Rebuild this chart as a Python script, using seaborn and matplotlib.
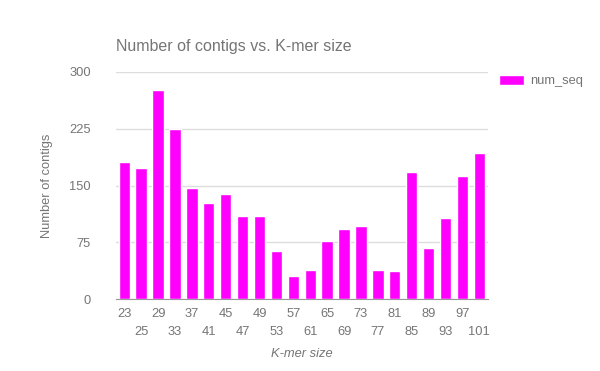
import matplotlib
matplotlib.use('Agg')
import matplotlib.pyplot as plt
import seaborn as sns
import pandas as pd

# data
kmer = [23, 25, 29, 33, 37, 41, 45, 47, 49, 53, 57,
        61, 65, 69, 73, 77, 81, 85, 89, 93, 97, 101]
num_seq = [181, 173, 276, 224, 147, 127, 139, 110, 110, 64, 31,
           39, 77, 93, 97, 39, 38, 168, 68, 107, 163, 193]

df = pd.DataFrame({'kmer': [str(k) for k in kmer], 'num_seq': num_seq})

sns.set_style('white')
plt.rcParams['font.family'] = ['Liberation Sans', 'DejaVu Sans']
grey = '#757575'

fig = plt.figure(figsize=(6, 3.71), dpi=100)
ax = fig.add_axes([0.193, 0.193, 0.62, 0.614])

sns.barplot(data=df, x='kmer', y='num_seq', color='#ff00ff', saturation=1,
            width=0.67, ax=ax, label='num_seq', zorder=3)

ax.set_ylim(0, 300)
ax.set_yticks([0, 75, 150, 225, 300])
ax.set_xlim(-0.5, len(kmer) - 0.5)
ax.grid(axis='y', color='#dddddd', linewidth=1, zorder=0)
for s in ['top', 'right', 'left']:
    ax.spines[s].set_visible(False)
ax.spines['bottom'].set_color('#999999')
ax.spines['bottom'].set_zorder(4)

# staggered x labels
labels = [str(k) if i % 2 == 0 else '\n' + str(k) for i, k in enumerate(kmer)]
ax.set_xticks(range(len(kmer)))
ax.set_xticklabels(labels, linespacing=1.7)
ax.tick_params(axis='both', length=0, labelsize=9.3, colors=grey)
ax.tick_params(axis='y', pad=18)
ax.tick_params(axis='x', pad=6)

ax.set_xlabel('K-mer size', fontsize=9.3, color=grey, style='italic', labelpad=7)
ax.set_ylabel('Number of contigs', fontsize=9.3, color=grey, labelpad=12)
ax.set_title('Number of contigs vs. K-mer size', fontsize=11.5, color=grey,
             loc='left', pad=15)

leg = ax.legend(loc='upper left', bbox_to_anchor=(1.0, 1.035), frameon=False,
                fontsize=9.3, handlelength=1.9, handleheight=0.75, handletextpad=0.5)
for t in leg.get_texts():
    t.set_color(grey)

fig.savefig('out.png', dpi=100)
